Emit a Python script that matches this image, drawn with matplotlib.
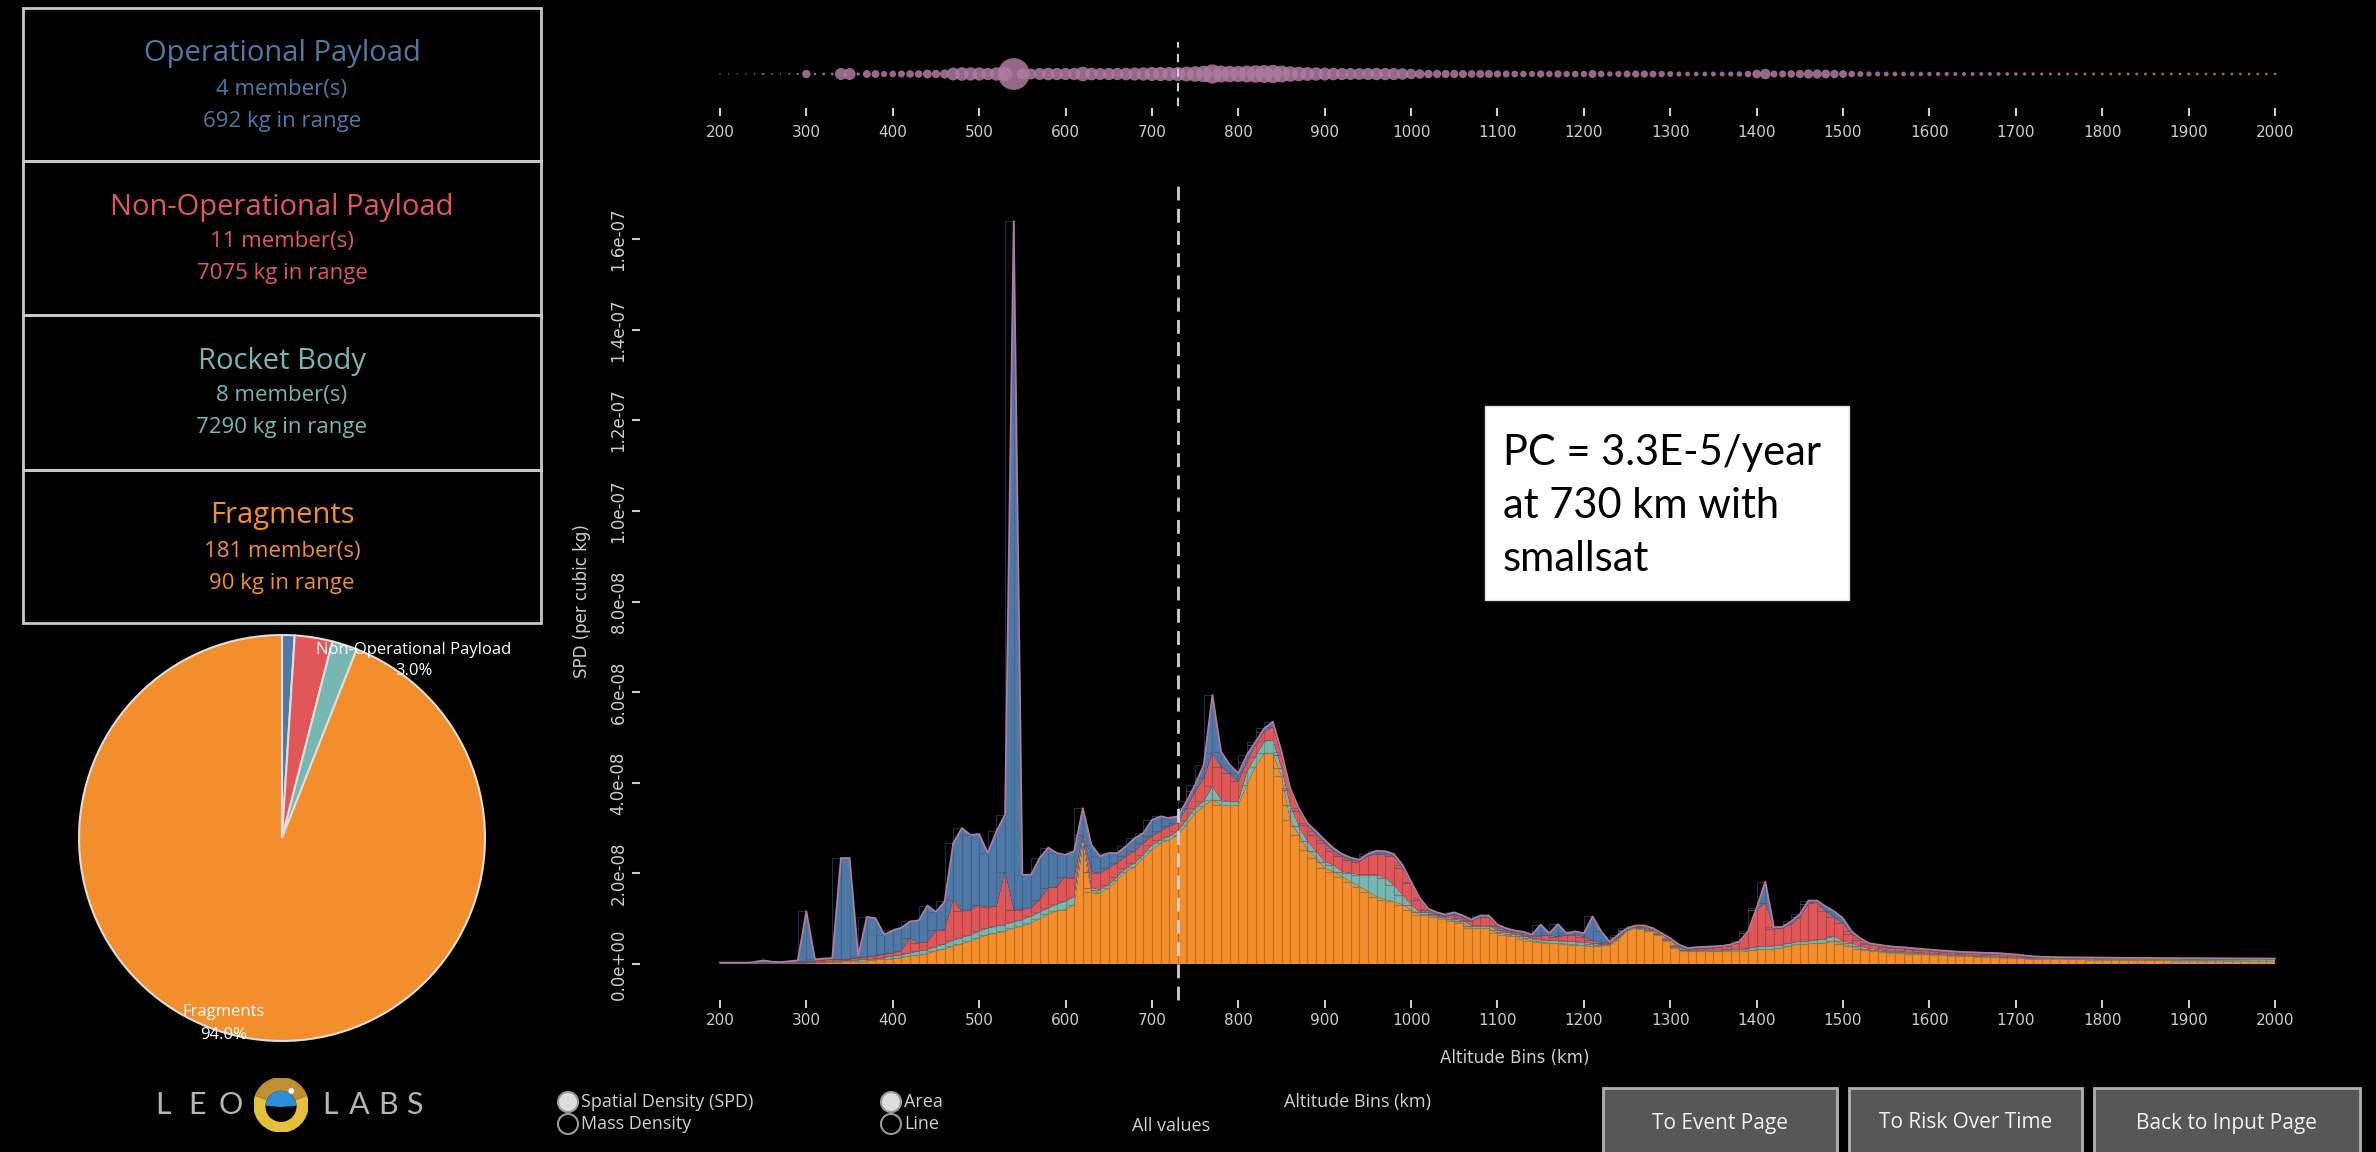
import numpy as np
import matplotlib.pyplot as plt
from matplotlib.patches import Rectangle, Circle, Wedge

W, H = 2376, 1152

blue = '#4e79a7'
red = '#e15759'
teal = '#76b7b2'
orange = '#f28e2b'
purple = '#b07aa1'

# altitude bins (km)
alts = np.arange(200, 2001, 10)

# stacked SPD levels, units of 1e-9 (top of each layer)
frag_top = np.array([
    0.1, 0.1, 0.1, 0.1, 0.1, 0.1, 0.1, 0.1, 0.2, 0.2,
    0.2, 0.3, 0.4, 0.5, 0.5, 0.6, 0.6, 0.7, 0.9, 1.0,
    1.2, 1.4, 1.7, 2.0, 2.3, 2.9, 3.3, 3.9, 4.5, 5.0,
    5.8, 6.5, 6.8, 7.2, 7.9, 8.4, 9.0, 10.0, 11.0, 11.8,
    12.0, 13.1, 26.0, 16.0, 15.7, 16.8, 18.6, 20.4, 21.5, 23.4,
    25.2, 26.7, 27.4, 28.5, 30.7, 33.3, 34.8, 36.3, 35.1, 35.1,
    35.1, 39.6, 43.6, 46.5, 46.5, 41.4, 31.8, 28.5, 25.2, 23.4,
    21.2, 20.4, 19.3, 18.2, 17.1, 16.0, 14.9, 14.2, 13.8, 13.1,
    12.0, 10.9, 10.9, 10.3, 10.0, 9.4, 9.0, 7.9, 7.9, 7.9,
    6.8, 6.5, 6.1, 5.6, 5.1, 4.9, 4.6, 4.6, 4.4, 4.3,
    4.1, 3.9, 3.9, 4.1, 5.4, 7.2, 7.9, 7.7, 7.2, 6.5,
    5.1, 3.5, 2.8, 2.8, 2.8, 2.8, 2.8, 2.9, 2.9, 2.9,
    3.2, 3.3, 3.3, 3.6, 4.0, 4.4, 4.4, 4.6, 4.6, 5.1,
    4.4, 3.9, 3.4, 3.2, 2.9, 2.6, 2.5, 2.4, 2.3, 2.2,
    2.1, 2.0, 1.95, 1.85, 1.8, 1.7, 1.6, 1.55, 1.5, 1.4,
    1.3, 1.25, 1.2, 1.15, 1.1, 1.1, 1.05, 1.0, 1.0, 0.95,
    0.9, 0.88, 0.87, 0.85, 0.84, 0.82, 0.8, 0.79, 0.78, 0.77,
    0.76, 0.75, 0.74, 0.73, 0.72, 0.71, 0.7, 0.69, 0.68, 0.67, 0.66])

rocket_top = np.array([
    0.15, 0.15, 0.15, 0.15, 0.15, 0.15, 0.15, 0.15, 0.25, 0.25,
    0.3, 0.4, 0.5, 0.6, 0.7, 0.8, 0.9, 1.0, 1.2, 1.4,
    1.7, 2.0, 2.4, 2.8, 3.2, 3.8, 4.4, 5.2, 5.8, 6.4,
    7.2, 7.9, 8.3, 8.7, 9.3, 9.8, 10.5, 11.4, 12.3, 13.2,
    13.8, 14.9, 27.8, 16.8, 16.4, 17.5, 19.3, 21.2, 22.3, 24.1,
    26.3, 27.4, 28.2, 29.3, 31.8, 34.4, 35.9, 39.2, 36.3, 35.9,
    35.9, 42.5, 45.8, 49.1, 49.5, 43.2, 35.1, 30.4, 27.1, 24.9,
    22.6, 21.9, 20.4, 20.1, 19.7, 19.7, 19.7, 19.0, 17.5, 15.3,
    13.1, 11.4, 11.4, 10.8, 10.4, 9.9, 9.5, 8.5, 8.5, 8.5,
    7.4, 7.0, 6.6, 6.2, 5.7, 5.5, 5.2, 5.2, 5.1, 5.0,
    4.8, 4.5, 4.3, 4.4, 5.7, 7.4, 8.1, 7.9, 7.4, 6.6,
    5.3, 3.8, 3.0, 3.1, 3.1, 3.1, 3.1, 3.2, 3.3, 3.4,
    3.8, 4.0, 4.0, 4.3, 4.6, 5.0, 5.1, 5.4, 5.6, 6.1,
    5.1, 4.6, 3.9, 3.4, 3.2, 2.9, 2.8, 2.7, 2.6, 2.5,
    2.4, 2.3, 2.2, 2.1, 2.0, 1.9, 1.85, 1.8, 1.75, 1.6,
    1.5, 1.45, 1.4, 1.35, 1.3, 1.3, 1.28, 1.26, 1.25, 1.22,
    1.2, 1.2, 1.19, 1.18, 1.17, 1.16, 1.15, 1.14, 1.13, 1.12,
    1.11, 1.1, 1.09, 1.08, 1.07, 1.06, 1.05, 1.04, 1.03, 1.02, 1.01])

nonop_top = np.array([
    0.2, 0.2, 0.2, 0.2, 0.3, 0.4, 0.3, 0.3, 0.4, 0.5,
    0.5, 0.6, 0.8, 1.0, 1.0, 1.0, 1.4, 1.6, 1.8, 2.1,
    2.4, 2.9, 5.7, 4.6, 4.9, 7.4, 7.6, 14.2, 11.6, 12.0,
    13.0, 12.5, 12.7, 20.4, 12.0, 12.0, 12.4, 14.2, 16.8, 17.1,
    19.3, 19.0, 28.5, 20.4, 20.0, 21.2, 22.3, 23.8, 24.9, 26.7,
    28.2, 29.3, 30.4, 31.1, 34.4, 38.1, 41.0, 46.5, 43.6, 42.1,
    40.3, 44.7, 48.4, 51.3, 52.4, 46.2, 38.5, 33.7, 30.7, 28.5,
    26.7, 25.0, 23.8, 23.0, 22.6, 23.8, 24.3, 24.3, 23.8, 21.2,
    17.9, 14.2, 11.9, 11.0, 10.6, 10.9, 10.2, 9.4, 10.3, 10.3,
    8.3, 7.5, 7.0, 6.7, 6.2, 6.2, 6.3, 6.0, 6.3, 6.5,
    6.0, 5.2, 4.7, 4.6, 6.0, 7.6, 8.3, 8.2, 7.6, 6.6,
    5.5, 4.0, 3.2, 3.4, 3.5, 3.6, 3.7, 4.0, 4.7, 6.9,
    12.0, 13.5, 7.8, 7.9, 8.8, 10.4, 13.2, 13.6, 11.6, 10.3,
    9.0, 6.6, 5.4, 4.4, 4.1, 3.8, 3.6, 3.5, 3.3, 3.2,
    3.0, 2.9, 2.75, 2.6, 2.5, 2.45, 2.35, 2.3, 2.25, 2.1,
    1.95, 1.75, 1.6, 1.5, 1.45, 1.42, 1.4, 1.38, 1.36, 1.34,
    1.32, 1.3, 1.29, 1.28, 1.27, 1.26, 1.25, 1.24, 1.23, 1.22,
    1.21, 1.2, 1.19, 1.18, 1.17, 1.16, 1.15, 1.14, 1.13, 1.12, 1.11])

total = np.array([
    0.3, 0.3, 0.3, 0.3, 0.4, 0.8, 0.5, 0.4, 0.6, 0.8,
    11.6, 1.0, 1.2, 1.3, 23.4, 23.4, 1.8, 10.4, 10.1, 6.5,
    7.4, 8.0, 9.4, 9.6, 12.9, 11.5, 13.8, 26.7, 30.0, 28.5,
    28.7, 24.5, 29.3, 33.0, 164.0, 19.7, 19.7, 23.4, 25.7, 24.5,
    24.1, 24.9, 34.4, 26.3, 23.8, 24.5, 24.5, 26.0, 27.8, 28.9,
    31.8, 32.6, 32.2, 32.6, 35.9, 39.6, 44.0, 59.4, 46.9, 44.0,
    42.1, 46.2, 49.1, 52.0, 53.5, 46.9, 38.8, 34.4, 31.1, 29.3,
    27.4, 25.6, 24.3, 23.5, 23.0, 24.3, 25.0, 24.9, 24.3, 21.9,
    18.2, 14.6, 12.2, 11.4, 10.9, 11.4, 10.7, 9.8, 10.7, 10.7,
    8.7, 7.9, 7.4, 7.1, 6.5, 8.7, 6.8, 8.8, 6.8, 7.2,
    6.8, 10.5, 7.2, 4.9, 6.5, 7.9, 8.5, 8.5, 7.9, 6.8,
    5.7, 4.3, 3.5, 3.7, 3.8, 3.9, 4.0, 4.3, 5.0, 7.2,
    12.4, 18.2, 8.1, 8.2, 9.4, 11.0, 14.0, 14.0, 12.7, 11.6,
    10.1, 7.2, 5.7, 4.6, 4.3, 4.0, 3.8, 3.7, 3.5, 3.35,
    3.2, 3.05, 2.9, 2.75, 2.65, 2.6, 2.5, 2.45, 2.4, 2.25,
    2.1, 1.9, 1.7, 1.6, 1.55, 1.5, 1.48, 1.46, 1.44, 1.42,
    1.4, 1.38, 1.36, 1.35, 1.34, 1.33, 1.32, 1.31, 1.3, 1.29,
    1.28, 1.27, 1.26, 1.25, 1.24, 1.23, 1.22, 1.21, 1.2, 1.2, 1.2])

# per-class densities
frag = frag_top * 1e-9
rocket = np.clip(rocket_top - frag_top, 0, None) * 1e-9
nonop = np.clip(nonop_top - rocket_top, 0, None) * 1e-9
oper = np.clip(total - nonop_top, 0, None) * 1e-9

# summary panels
classes = ['Operational Payload', 'Non-Operational Payload', 'Rocket Body', 'Fragments']
members = [4, 11, 8, 181]
mass_kg = [692, 7075, 7290, 90]
class_colors = [blue, red, teal, orange]
pie_share = [1.0, 3.0, 2.0, 94.0]

alt_marker = 730
note_lines = ['PC = 3.3E-5/year', 'at 730 km with', 'smallsat']
buttons = ['To Event Page', 'To Risk Over Time', 'Back to Input Page']

plt.rcParams['font.family'] = ['Open Sans', 'DejaVu Sans']


def px_box(left, top, w, h):
    return [left / W, 1 - (top + h) / H, w / W, h / H]


fig = plt.figure(figsize=(W / 100, H / 100), dpi=100, facecolor='black')

# main stacked area chart
ax = fig.add_axes(px_box(720, 194, 1555, 770))
ax.set_facecolor('black')
layers = [frag, rocket, nonop, oper]
layer_cols = [orange, teal, red, blue]
edge_cols = ['#b5651a', '#4f8f8a', '#a8403f', '#3b5f85']
ax.stackplot(alts, *layers, colors=layer_cols, lw=0, clip_on=False)
bottom = np.zeros_like(frag)
for vals, ec in zip(layers, edge_cols):
    ax.bar(alts, vals, width=-10, align='edge', bottom=bottom, facecolor='none',
           edgecolor=ec, linewidth=0.8, alpha=0.5)
    bottom = bottom + vals
ax.plot(alts, bottom, color=purple, lw=1.3, clip_on=False)
ax.axvline(alt_marker, ymin=-0.047, ymax=1.016, color='#d0d0d0', lw=2,
           dashes=(5, 3), clip_on=False)

ax.set_xlim(200, 2000)
ax.set_ylim(0, 1.7e-7)
ax.set_xticks(np.arange(200, 2001, 100))
yt = np.arange(0, 1.61e-7, 2e-8)
ax.set_yticks(yt)
ax.set_yticklabels([f'{v:.1e}' for v in yt])
for s in ['top', 'right']:
    ax.spines[s].set_visible(False)
ax.spines['left'].set_position(('outward', 57.6))
ax.spines['bottom'].set_position(('outward', 26))
ax.spines['left'].set_color('none')
ax.spines['bottom'].set_color('none')
ax.tick_params(colors='#cccccc', length=6, width=1.5, labelsize=11)
ax.tick_params(axis='y', labelrotation=90, pad=3, labelsize=12)
for lab in ax.get_yticklabels():
    lab.set_verticalalignment('center')
    lab.set_family('DejaVu Sans')
for lab in ax.get_xticklabels():
    lab.set_family('DejaVu Sans')

# altitude bubble strip
axt = fig.add_axes(px_box(720, 40, 1555, 68))
axt.set_facecolor('none')
axt.scatter(alts, np.zeros_like(alts), s=3.2 * total, color=purple, alpha=0.85,
            lw=0, clip_on=False)
axt.axvline(alt_marker, ymin=0.03, ymax=0.97, color='#d0d0d0', lw=1.5, dashes=(4, 3))
axt.set_xlim(200, 2000)
axt.set_ylim(-1, 1)
axt.set_xticks(np.arange(200, 2001, 100))
axt.set_yticks([])
for s in ['top', 'right', 'left']:
    axt.spines[s].set_visible(False)
axt.spines['bottom'].set_color('none')
axt.tick_params(colors='#cccccc', length=6, width=1.5, labelsize=11, pad=6)
for lab in axt.get_xticklabels():
    lab.set_family('DejaVu Sans')

# pie of class shares
pr = 205
pax = fig.add_axes(px_box(282 - pr, 838 - pr, 2 * pr, 2 * pr))
pax.pie(pie_share, colors=class_colors, startangle=90, counterclock=False,
        wedgeprops=dict(edgecolor='#dddddd', linewidth=1.5))
pax.set_xlim(-1.01, 1.01)
pax.set_ylim(-1.01, 1.01)

# logo mark
lax = fig.add_axes(px_box(254, 1078, 54, 54))
lax.set_xlim(-1, 1)
lax.set_ylim(-1, 1)
lax.set_aspect('equal')
lax.axis('off')
lax.add_patch(Circle((0, 0), 1, color='#e3c23a'))
lax.add_patch(Wedge((0, 0), 1, 20, 160, color='#b07a2e', alpha=0.7))
lax.add_patch(Circle((0, -0.05), 0.55, color='#050505'))
lax.add_patch(Wedge((0, -0.05), 0.55, 5, 175, color='#2a8fd6'))
lax.add_patch(Circle((0.38, 0.52), 0.08, color='white'))

# overlay in pixel coordinates for panels and controls
ov = fig.add_axes([0, 0, 1, 1])
ov.set_xlim(0, W)
ov.set_ylim(H, 0)
ov.axis('off')
ov.set_zorder(5)

tops = [8, 161, 315, 470, 623]
for i, (name, n, kg, c) in enumerate(zip(classes, members, mass_kg, class_colors)):
    t = tops[i]
    ov.add_patch(Rectangle((23, t), 518, tops[i + 1] - t, fill=False,
                           edgecolor='#c8c8c8', lw=2))
    ov.text(282, t + 46, name, color=c, fontsize=21, ha='center', va='center')
    ov.text(282, t + 81, f'{n} member(s)', color=c, fontsize=16, ha='center', va='center')
    ov.text(282, t + 113, f'{kg} kg in range', color=c, fontsize=16, ha='center', va='center')

ov.text(414, 650, classes[1], color='white', fontsize=12, ha='center', va='center')
ov.text(414, 671, f'{pie_share[1]:.1f}%', color='white', fontsize=12, ha='center', va='center')
ov.text(224, 1012, classes[3], color='white', fontsize=12, ha='center', va='center')
ov.text(224, 1035, f'{pie_share[3]:.1f}%', color='white', fontsize=12, ha='center', va='center')

for ch, x in zip('LEO', [163, 197, 231]):
    ov.text(x, 1105, ch, color='#b4b4b4', fontsize=22, ha='center', va='center',
            family='Lato')
for ch, x in zip('LABS', [330, 359, 388, 414]):
    ov.text(x, 1105, ch, color='#b4b4b4', fontsize=22, ha='center', va='center',
            family='Lato')

fig.text(582 / W, 1 - 601 / H, 'SPD (per cubic kg)', rotation=90, color='#cccccc',
         fontsize=12, ha='center', va='center', family='DejaVu Sans')
fig.text(1515 / W, 1 - 1058 / H, 'Altitude Bins (km)', color='#cccccc',
         fontsize=12, ha='center', va='center', family='DejaVu Sans')

# note box
ov.add_patch(Rectangle((1485, 406), 364, 194, facecolor='white', edgecolor='#dddddd', lw=1))
for i, line in enumerate(note_lines):
    ov.text(1503, 453 + 53 * i, line, color='black', fontsize=30, ha='left',
            va='center', family='Lato')

# radio controls
radios = [(568, 1102, True, 'Spatial Density (SPD)'), (568, 1124, False, 'Mass Density'),
          (891, 1102, True, 'Area'), (891, 1124, False, 'Line')]
for x, y, on, label in radios:
    ov.add_patch(Circle((x, y), 10, facecolor='#dddddd' if on else 'black',
                        edgecolor='#999999', lw=1.5))
    ov.text(x + 13, y, label, color='#d0d0d0', fontsize=13, ha='left', va='center')
ov.text(1171, 1126, 'All values', color='#d0d0d0', fontsize=13, ha='center', va='center')
ov.text(1358, 1102, 'Altitude Bins (km)', color='#d0d0d0', fontsize=13, ha='center',
        va='center')

# navigation buttons
for (x0, x1), label in zip([(1603, 1837), (1849, 2082), (2094, 2360)], buttons):
    ov.add_patch(Rectangle((x0, 1088), x1 - x0, 80, facecolor='#575757',
                           edgecolor='#b0b0b0', lw=2))
    ov.text((x0 + x1) / 2, 1123, label, color='#f0f0f0', fontsize=15, ha='center',
            va='center')

fig.savefig('out.png', dpi=100, facecolor='black')
